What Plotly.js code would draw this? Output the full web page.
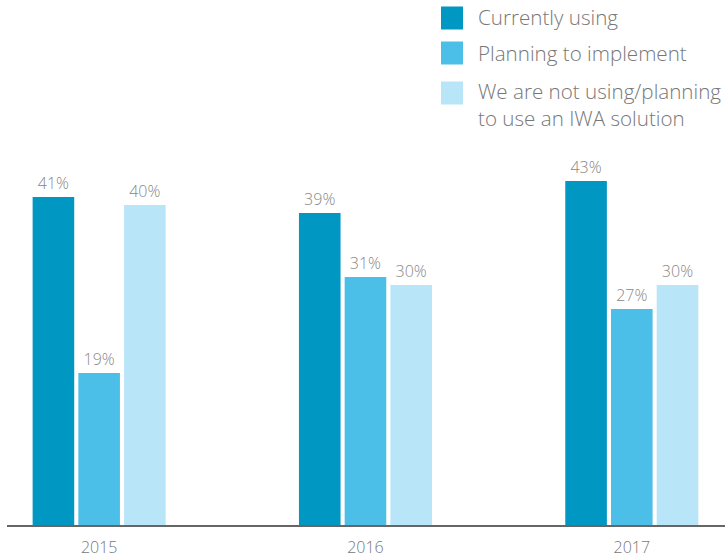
<!DOCTYPE html>
<html>
<head>
<meta charset="utf-8">
<script src="https://cdn.plot.ly/plotly-3.0.1.min.js"></script>
<style>
html,body{margin:0;padding:0;background:#fff;}
#chart{width:727px;height:558px;}
</style>
</head>
<body>
<div id="chart"></div>
<script>
const years = ["2015", "2016", "2017"];
const seriesNames = ["Currently using", "Planning to implement", "We are not using/planning<br>to use an IWA solution"];
const currentlyUsing = [41, 39, 43];
const planning = [19, 31, 27];
const notUsing = [40, 30, 30];
const colors = ["#0097c3", "#4bbfe8", "#b9e5f9"];

const seriesValues = [currentlyUsing, planning, notUsing];
const FONT = "'Open Sans', 'Noto Sans', sans-serif";

const traces = seriesValues.map((vals, i) => ({
  type: "bar",
  x: years,
  y: vals,
  name: seriesNames[i],
  marker: {color: colors[i]},
  text: vals.map(v => v + "%"),
  textposition: "outside",
  cliponaxis: false,
  textfont: {family: FONT, size: 16, color: "#888888", weight: 300},
  hoverinfo: "none",
  showlegend: false
}));

const W = 727, H = 558;
const margin = {l: 7, r: 2, t: 125, b: 33};
const pw = W - margin.l - margin.r, ph = H - margin.t - margin.b;
function px2x(px){ return (px - margin.l) / pw; }
function py2y(py){ return (H - margin.b - py) / ph; }

// custom legend: squares + labels
const shapes = [];
const annotations = [];
const legendRows = [18, 53, 93];
const lineStep = 25;
legendRows.forEach((cy, i) => {
  shapes.push({
    type: "rect", xref: "paper", yref: "paper",
    x0: px2x(441), x1: px2x(463),
    y0: py2y(cy + 11.5), y1: py2y(cy - 11.5),
    fillcolor: colors[i], line: {width: 0}
  });
  const nLines = seriesNames[i].split("<br>").length;
  annotations.push({
    xref: "paper", yref: "paper",
    x: px2x(477), y: py2y(cy - 0.5 + (nLines - 1) * lineStep / 2),
    xanchor: "left", yanchor: "middle",
    align: "left",
    showarrow: false,
    borderpad: 0,
    text: seriesNames[i],
    font: {family: FONT, size: 20.6, color: "#777777", weight: 300}
  });
});

const layout = {
  width: W, height: H,
  margin: margin,
  paper_bgcolor: "#fff",
  plot_bgcolor: "#fff",
  barmode: "group",
  bargap: 0.485,
  bargroupgap: 0.09,
  xaxis: {
    type: "category",
    range: [-0.346, 2.35],
    showgrid: false,
    zeroline: false,
    showline: true,
    linecolor: "#666666",
    linewidth: 2,
    ticks: "",
    ticklabelstandoff: 7,
    tickfont: {family: FONT, size: 16, color: "#777777", weight: 300},
    fixedrange: true
  },
  yaxis: {
    range: [0, 50],
    showgrid: false,
    zeroline: false,
    showline: false,
    showticklabels: false,
    ticks: "",
    fixedrange: true
  },
  shapes: shapes,
  annotations: annotations,
  showlegend: false
};

Plotly.newPlot("chart", traces, layout, {displayModeBar: false, staticPlot: true});
</script>
</body>
</html>
